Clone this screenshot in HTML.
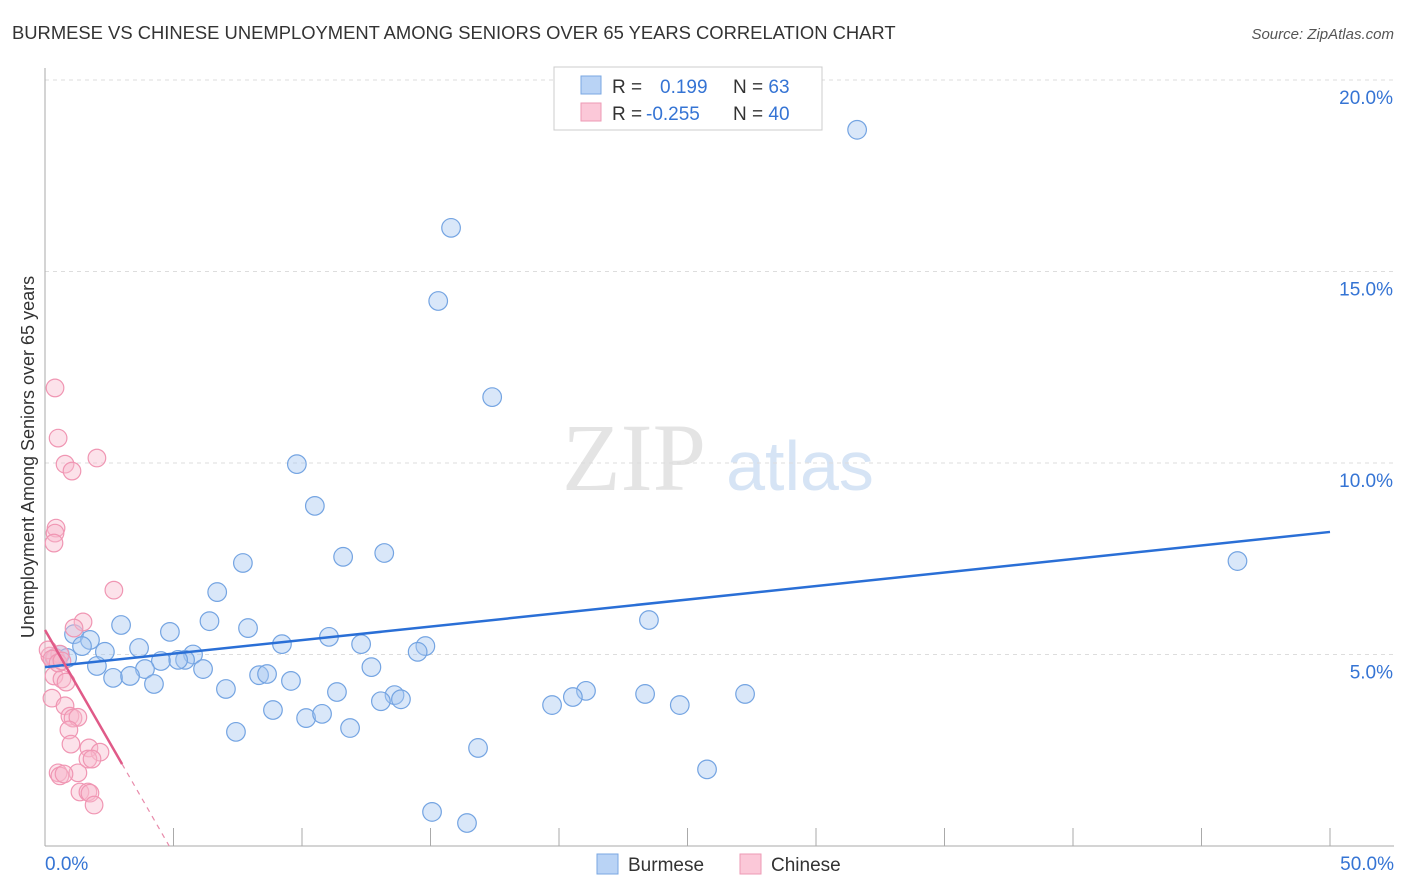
<!DOCTYPE html>
<html><head><meta charset="utf-8"><style>
body{margin:0;background:#fff;font-family:"Liberation Sans",sans-serif}
svg{display:block}
</style></head><body>
<svg id="c" width="1406" height="892">
<text x="12" y="39" font-size="18.4" fill="#333">BURMESE VS CHINESE UNEMPLOYMENT AMONG SENIORS OVER 65 YEARS CORRELATION CHART</text>
<text x="1394" y="39" font-size="15" fill="#555" text-anchor="end" font-style="italic">Source: ZipAtlas.com</text>
<text x="634" y="490" font-size="96" fill="#e4e4e4" font-family="Liberation Serif" text-anchor="middle">ZIP</text>
<text x="800" y="490" font-size="70" fill="#d6e4f5" text-anchor="middle">atlas</text>
<g id="grid"></g><g id="marks"></g>
<text transform="translate(34,457) rotate(-90)" font-size="18" fill="#333" text-anchor="middle">Unemployment Among Seniors over 65 years</text>
<g>
<rect x="554" y="67" width="268" height="63" fill="#fff" stroke="#ccc"/>
<rect x="581" y="76" width="20" height="18" fill="#b9d3f5" stroke="#7aa7e2"/>
<rect x="581" y="103" width="20" height="18" fill="#fbc8d8" stroke="#ee9ab5"/>
<text x="612" y="93" font-size="19" fill="#333">R = <tspan fill="#3574d4" x="660">0.199</tspan><tspan x="733" fill="#333">N = </tspan><tspan fill="#3574d4">63</tspan></text>
<text x="612" y="120" font-size="19" fill="#333">R = <tspan fill="#3574d4" x="646">-0.255</tspan><tspan x="733" fill="#333">N = </tspan><tspan fill="#3574d4">40</tspan></text>
</g>
<g>
<rect x="597" y="854" width="21" height="20" fill="#b9d3f5" stroke="#7aa7e2"/>
<text x="628" y="871" font-size="19" fill="#333">Burmese</text>
<rect x="740" y="854" width="21" height="20" fill="#fbc8d8" stroke="#ee9ab5"/>
<text x="771" y="871" font-size="19" fill="#333">Chinese</text>
</g>
</svg>
<script>
const yTicks=[5,10,15,20];
const yTickLabels=["5.0%","10.0%","15.0%","20.0%"];
const xTickLabels=["0.0%","50.0%"];
const blueX=[31.6,15.8,15.3,17.4,9.8,10.5,11.6,13.2,7.7,6.7,2.96,6.4,4.86,7.9,1.13,1.75,1.44,3.66,2.33,9.22,11.05,12.3,14.8,14.5,23.5,46.4,5.76,5.45,5.18,4.51,3.89,2.02,6.15,12.7,2.65,3.31,4.24,7.04,8.33,8.64,9.57,11.36,13.6,13.85,13.07,21.05,20.54,23.35,27.24,19.73,24.7,8.87,10.16,10.78,11.87,7.43,16.85,25.76,15.06,16.42,0.58,0.39,0.86];
const blueY=[18.7,16.14,14.23,11.72,9.97,8.88,7.55,7.65,7.39,6.63,5.77,5.87,5.59,5.69,5.53,5.38,5.22,5.17,5.07,5.27,5.46,5.27,5.22,5.07,5.9,7.44,5.0,4.86,4.86,4.83,4.62,4.7,4.62,4.67,4.39,4.44,4.23,4.1,4.46,4.49,4.31,4.02,3.94,3.83,3.78,4.05,3.89,3.97,3.97,3.68,3.68,3.55,3.34,3.45,3.08,2.98,2.56,2.0,0.89,0.6,4.99,4.91,4.91];
const pinkX=[0.39,0.51,0.78,1.05,2.02,0.43,0.39,0.35,2.68,1.48,1.13,0.19,0.39,0.58,0.35,0.66,0.82,0.27,0.78,0.97,1.09,1.28,0.93,1.01,1.71,2.14,1.67,1.83,1.28,0.51,0.58,0.74,1.36,1.67,1.75,1.91,0.12,0.27,0.51,0.66];
const pinkY=[11.96,10.65,9.97,9.79,10.13,8.3,8.17,7.91,6.68,5.85,5.69,4.96,4.91,5.01,4.44,4.36,4.28,3.86,3.66,3.39,3.34,3.36,3.03,2.66,2.56,2.45,2.27,2.27,1.91,1.91,1.83,1.88,1.41,1.41,1.38,1.07,5.12,4.88,4.78,4.83];
const blueTrend=[4.67,8.2];
const pinkTrend=[5.64,-1.167];
const X=v=>45+v/50*1285, Y=v=>846-v*38.3;
const NS="http://www.w3.org/2000/svg";
function mk(tag,attrs,parent){const e=document.createElementNS(NS,tag);for(const k in attrs)e.setAttribute(k,attrs[k]);parent.appendChild(e);return e;}
const g=document.getElementById('grid'),m=document.getElementById('marks');
yTicks.forEach((t,i)=>{
 const l=mk('line',{x1:45,x2:1394,y1:Y(t),y2:Y(t),stroke:'#ddd','stroke-dasharray':'4,4'},g);
 
 
 const tx=mk('text',{x:1393,y:Y(t)+24,'font-size':19,fill:'#3574d4','text-anchor':'end'},g);tx.textContent=yTickLabels[i];
 
 
});
const ax=mk('line',{x1:45,x2:45,y1:68,y2:846,stroke:'#aaa'},g);


const bx=mk('line',{x1:45,x2:1394,y1:846,y2:846,stroke:'#aaa'},g);


for(let i=1;i<=10;i++){const t=mk('line',{x1:X(i*5),x2:X(i*5),y1:828,y2:846,stroke:'#aaa'},g);
 
 }
[[0,'start',45],[50,'end',1394]].forEach((a,i)=>{const t=mk('text',{x:a[2],y:870,'font-size':19,fill:'#3574d4','text-anchor':a[1]},g);t.textContent=xTickLabels[i];
 
 });
blueX.forEach((x,i)=>{const c=mk('circle',{cx:X(x),cy:Y(blueY[i]),r:9.3,fill:'rgba(165,198,240,0.42)',stroke:'#74a4e2','stroke-width':1.2},m);
 
 });
pinkX.forEach((x,i)=>{const c=mk('circle',{cx:X(x),cy:Y(pinkY[i]),r:8.8,fill:'rgba(248,185,205,0.42)',stroke:'#f096b3','stroke-width':1.2},m);
 
 });
const bl=mk('line',{x1:X(0),y1:Y(blueTrend[0]),x2:X(50),y2:Y(blueTrend[0]+(blueTrend[1]-blueTrend[0])),stroke:'#2a6fd6','stroke-width':2.5},m);


const pEnd=3, pZero=-pinkTrend[0]/pinkTrend[1];
const pl=mk('line',{x1:X(0),y1:Y(pinkTrend[0]),x2:X(pEnd),y2:Y(pinkTrend[0]+pinkTrend[1]*pEnd),stroke:'#e05a88','stroke-width':2.5},m);


const pd=mk('line',{x1:X(pEnd),y1:Y(pinkTrend[0]+pinkTrend[1]*pEnd),x2:X(pZero),y2:Y(0),stroke:'#e88aaa','stroke-width':1.2,'stroke-dasharray':'5,5'},m);


</script>
</body></html>
